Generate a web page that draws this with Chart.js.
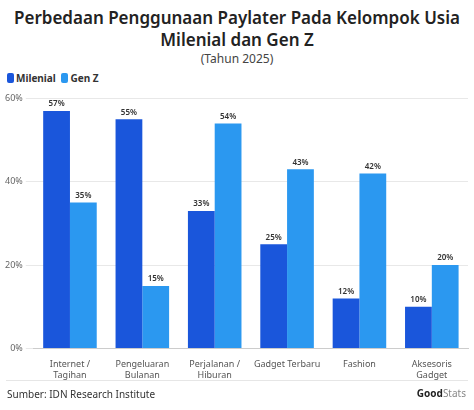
<!DOCTYPE html>
<html>
<head>
<meta charset="utf-8">
<script src="https://cdn.jsdelivr.net/npm/chart.js@4/dist/chart.umd.min.js"></script>
<style>
  body { margin: 0; width: 474px; height: 410px; background: #fff; font-family: 'Noto Sans', sans-serif; overflow: hidden; position: relative; }
  h1 { margin: 0; position: absolute; top: 7px; left: 0; width: 474px; text-align: center; font-size: 17px; line-height: 22px; font-weight: 600; color: #222; }
  .sub { position: absolute; top: 50px; width: 474px; text-align: center; font-size: 12px; color: #444; }
  .legend { position: absolute; top: 71px; left: 7px; font-size: 10px; font-weight: 700; color: #333; }
  .legend span.box { display: inline-block; width: 7px; height: 10px; border-radius: 2px; vertical-align: -1px; margin-right: 2px; }
  .wrap { position: absolute; top: 90px; left: 0; width: 474px; height: 294px; }
  .rule { position: absolute; top: 380px; left: 6px; width: 462px; border-top: 1px solid #e6e6e6; }
  .src { position: absolute; top: 387px; left: 7px; font-size: 10px; color: #333; }
  .logo { position: absolute; top: 386px; right: 8px; font-size: 10px; color: #888; }
  .logo b { color: #222; }
</style>
</head>
<body>
<h1>Perbedaan Penggunaan Paylater Pada Kelompok Usia<br>Milenial dan Gen Z</h1>
<div class="sub">(Tahun 2025)</div>
<div class="legend"><span class="box" style="background:#1a56db"></span>Milenial <span class="box" style="background:#2b98f0;margin-left:3px"></span>Gen Z</div>
<div class="wrap"><canvas id="grafico"></canvas></div>
<div class="rule"></div>
<div class="src">Sumber: IDN Research Institute</div>
<div class="logo"><b>Good</b>Stats</div>
<script>
const kategori = [['Internet /', 'Tagihan'], ['Pengeluaran', 'Bulanan'], ['Perjalanan /', 'Hiburan'], 'Gadget Terbaru', 'Fashion', ['Aksesoris', 'Gadget']];
const milenial = [57, 55, 33, 25, 12, 10];
const genZ = [35, 15, 54, 43, 42, 20];
const ticksY = [0, 20, 40, 60];

const rotuloBarras = {
    id: 'rotuloBarras',
    afterDatasetsDraw(chart) {
        const ctx = chart.ctx;
        ctx.save();
        ctx.font = '600 8px "Noto Sans"';
        ctx.fillStyle = '#333';
        ctx.textAlign = 'center';
        ctx.textBaseline = 'bottom';
        chart.data.datasets.forEach((ds, i) => {
            chart.getDatasetMeta(i).data.forEach((bar, j) => {
                ctx.fillText(ds.data[j] + '%', bar.x, bar.y - 3);
            });
        });
        ctx.restore();
    },
};

new Chart(document.getElementById('grafico'), {
    type: 'bar',
    data: {
        labels: kategori,
        datasets: [
            { label: 'Milenial', data: milenial, backgroundColor: '#1a56db' },
            { label: 'Gen Z', data: genZ, backgroundColor: '#2b98f0' },
        ],
    },
    options: {
        responsive: true,
        maintainAspectRatio: false,
        animation: false,
        layout: { padding: { top: 6, right: 6, left: 2 } },
        datasets: { bar: { categoryPercentage: 0.74, barPercentage: 1 } },
        plugins: { legend: { display: false }, tooltip: { enabled: false } },
        scales: {
            x: {
                grid: { display: false },
                border: { color: '#ccc' },
                ticks: { color: '#555', font: { size: 9, family: 'Noto Sans' }, maxRotation: 0, autoSkip: false },
            },
            y: {
                min: 0, max: 60,
                afterBuildTicks: (axis) => { axis.ticks = ticksY.map((v) => ({ value: v })); },
                grid: { color: '#e8e8e8' },
                border: { display: false },
                ticks: { color: '#666', font: { size: 9, family: 'Noto Sans' }, callback: (v) => v + '%' },
            },
        },
    },
    plugins: [rotuloBarras],
});
</script>
</body>
</html>
